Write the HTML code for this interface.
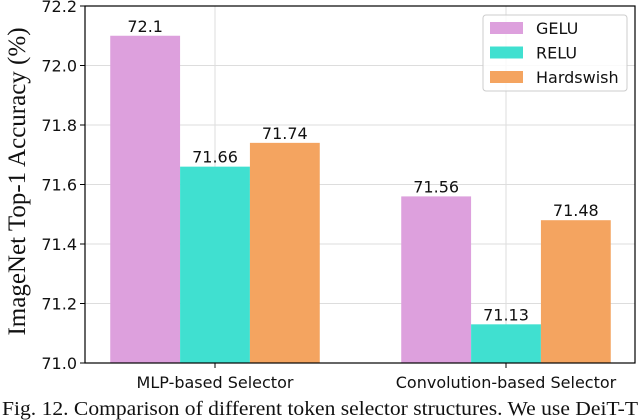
<!DOCTYPE html>
<html><head><meta charset="utf-8"><style>
html,body{margin:0;padding:0;background:#fff;}
svg{display:block;}
.t{font-family:"DejaVu Sans","Liberation Sans",sans-serif;font-size:16px;fill:#111;}
.s{font-family:"Liberation Serif",serif;fill:#111;}
</style></head><body>
<svg id="chart" width="640" height="420"></svg>
<script>
const categories = ["MLP-based Selector", "Convolution-based Selector"];
const seriesNames = ["GELU", "RELU", "Hardswish"];
const geluValues = [72.1, 71.56];
const reluValues = [71.66, 71.13];
const hardswishValues = [71.74, 71.48];
const valueLabels = [["72.1","71.56"],["71.66","71.13"],["71.74","71.48"]];
const yTicks = [71.0, 71.2, 71.4, 71.6, 71.8, 72.0, 72.2];
const yTickLabels = ["71.0","71.2","71.4","71.6","71.8","72.0","72.2"];

const NS = "http://www.w3.org/2000/svg";
const svg = document.getElementById("chart");
const L = 85, R = 635, T = 6, B = 363;
const xUnit = 291, x0 = 215;
const xs = i => x0 + i * xUnit;
const ys = v => B - (v - 71.0) / 1.2 * (B - T);
const barW = 0.24 * xUnit;
const colors = ["#dda0dd", "#40e0d0", "#f4a460"];
const series = [geluValues, reluValues, hardswishValues];
function mk(tag, attrs, parent) {
  const e = document.createElementNS(NS, tag);
  for (const k in attrs) e.setAttribute(k, attrs[k]);
  (parent || svg).appendChild(e);
  return e;
}
yTicks.forEach((v, i) => {
  const g = mk("line", {x1: L, x2: R, y1: ys(v), y2: ys(v), stroke: "#ddd", "stroke-width": 1});
  
  
  const tk = mk("line", {x1: L - 5, x2: L, y1: ys(v), y2: ys(v), stroke: "#000"});
  
  
  const tl = mk("text", {x: L - 8, y: ys(v) + 6, "text-anchor": "end", class: "t"});
  tl.textContent = yTickLabels[i];
  
  
});
categories.forEach((c, i) => {
  const g = mk("line", {x1: xs(i), x2: xs(i), y1: T, y2: B, stroke: "#ddd"});
  
  
});
series.forEach((vals, s) => {
  vals.forEach((v, i) => {
    const cx = xs(i) + (s - 1) * barW;
    const r = mk("rect", {x: cx - barW / 2, y: ys(v), width: barW, height: B - ys(v), fill: colors[s]});
    
    
    const t = mk("text", {x: cx, y: ys(v) - 4, "text-anchor": "middle", class: "t"});
    t.textContent = valueLabels[s][i];
    
    
  });
});
const fr = mk("rect", {x: L, y: T, width: R - L, height: B - T, fill: "none", stroke: "#000", "stroke-width": 1.2});


categories.forEach((c, i) => {
  const tk = mk("line", {x1: xs(i), x2: xs(i), y1: B, y2: B + 5, stroke: "#000"});
  
  
  const t = mk("text", {x: xs(i), y: B + 25, "text-anchor": "middle", class: "t"});
  t.textContent = c;
  
  
});
const yt = mk("text", {x: 0, y: 0, "text-anchor": "middle", class: "s", "font-size": "25", transform: "translate(25," + ((T + B) / 2 - 3) + ") rotate(-90)"});
yt.textContent = "ImageNet Top-1 Accuracy (%)";


const lg = mk("g", {});


mk("rect", {x: 483, y: 15, width: 144, height: 76, rx: 3, fill: "#fff", "fill-opacity": 0.85, stroke: "#ccc"}, lg);
seriesNames.forEach((n, s) => {
  const y = 28 + s * 24.5;
  const sw = mk("rect", {x: 490, y: y - 6, width: 33, height: 12, fill: colors[s]}, lg);
  
  
  const t = mk("text", {x: 536, y: y + 6, class: "t"}, lg);
  t.textContent = n;
  
  
});
const cap = mk("text", {x: 2, y: 415, class: "s", "font-size": "20", textLength: "636", lengthAdjust: "spacingAndGlyphs"});
cap.textContent = "Fig. 12.  Comparison of different token selector structures. We use DeiT-T";


</script>
</body></html>
